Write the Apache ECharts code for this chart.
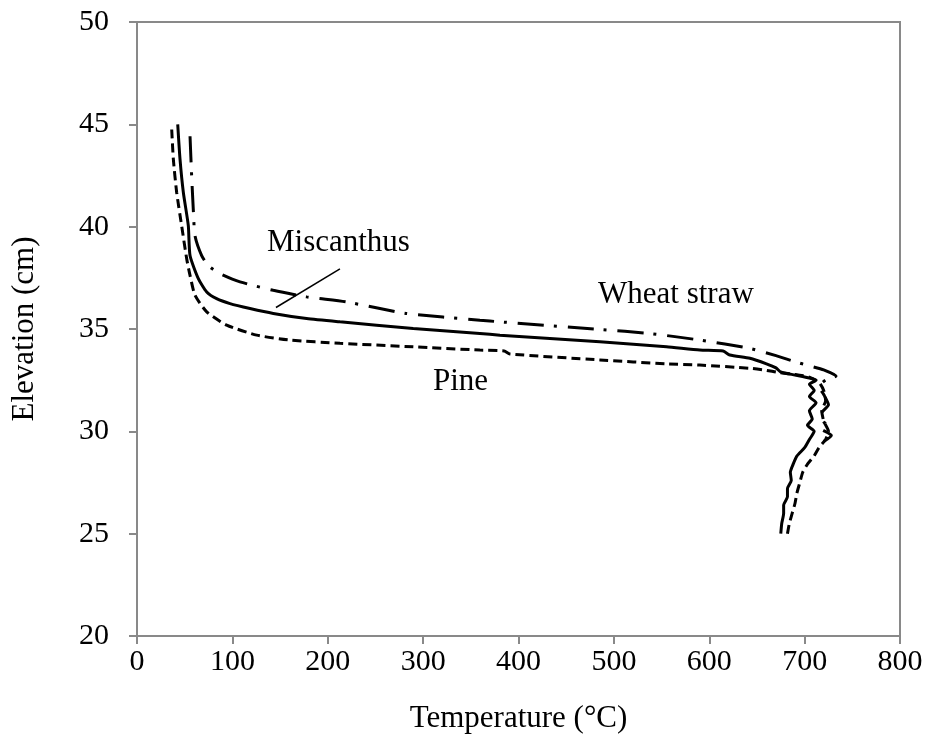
<!DOCTYPE html>
<html>
<head>
<meta charset="utf-8">
<script src="https://cdn.jsdelivr.net/npm/echarts@6/dist/echarts.min.js"></script>
<style>
  html, body { margin: 0; padding: 0; background: #fff; }
  #chart { width: 927px; height: 739px; }
</style>
</head>
<body>
<div id="chart"></div>
<script>
// Temperature profiles along the bed height (temperature in °C, elevation in cm)
const pineTemp = [36.4, 38.1, 41.6, 46.8, 52.1, 55.6, 60.8, 73.1, 94.0, 125.5, 160.4, 212.8, 289.6, 359.5, 385, 391, 485.3, 555.2, 590.1, 642.6,
  660, 672, 690, 705, 715, 720, 722, 718, 720, 725, 722, 715, 710, 703, 698, 695, 692, 690, 687, 684, 682];
const pineElev = [44.75, 43.3, 41.67, 40.05, 38.43, 37.62, 36.65, 35.84, 35.19, 34.70, 34.46, 34.30, 34.13, 33.97, 33.93, 33.78, 33.49, 33.30, 33.24, 33.08,
  32.98, 32.88, 32.78, 32.65, 32.4, 32.0, 31.5, 31.0, 30.5, 30.0, 29.6, 29.2, 28.8, 28.4, 28.0, 27.5, 27.0, 26.5, 26.0, 25.5, 25.0];

const miscanthusTemp = [42.7, 45.1, 48.6, 53.8, 55.6, 64.3, 73.1, 83.5, 97.5, 118.5, 142.9, 177.8, 212.8, 289.6, 359.5, 380.5, 485.3, 555.2, 590.1, 614.6, 621.6, 642.6,
  660, 670, 675, 690, 705, 712, 705, 710, 705, 712, 705, 708, 703, 710, 705, 700, 692, 688, 685, 686, 682, 682, 678, 678, 676, 675];
const miscanthusElev = [45.0, 43.3, 41.67, 40.05, 38.59, 37.46, 36.81, 36.48, 36.24, 36.0, 35.76, 35.51, 35.35, 35.03, 34.78, 34.70, 34.38, 34.13, 33.97, 33.92, 33.73, 33.57,
  33.3, 33.1, 32.9, 32.75, 32.6, 32.5, 32.3, 32.0, 31.7, 31.4, 31.0, 30.6, 30.3, 30.0, 29.6, 29.2, 28.8, 28.4, 28.0, 27.6, 27.2, 26.8, 26.4, 26.0, 25.5, 25.0];

const wheatTemp = [55.6, 57.3, 59.0, 60.8, 67.8, 74.7, 87.0, 108.0, 142.9, 177.8, 219.8, 282, 359.5, 380.5, 485.3, 537.7, 590.1, 642.6,
  670, 690, 705, 720, 733, 722, 715, 720, 725, 718, 722, 715, 728, 720];
const wheatElev = [44.42, 42.48, 40.86, 39.56, 38.59, 38.10, 37.70, 37.30, 36.89, 36.57, 36.32, 35.76, 35.43, 35.35, 34.98, 34.78, 34.46, 34.05,
  33.7, 33.4, 33.2, 33.0, 32.7, 32.5, 32.2, 31.8, 31.3, 30.9, 30.5, 30.2, 29.8, 29.5];

// Pointer from the "Miscanthus" label to its curve
const leaderTemp = [212.8, 145.7];
const leaderElev = [37.94, 36.05];

const xTicks = [0, 100, 200, 300, 400, 500, 600, 700, 800];
const yTicks = [20, 25, 30, 35, 40, 45, 50];

const pairs = (xs, ys) => xs.map((x, i) => [x, ys[i]]);

const FONT = '"Liberation Serif", "Times New Roman", serif';
const AXIS_GREY = '#898989';

const chart = echarts.init(document.getElementById('chart'), null, { renderer: 'canvas' });

const lineSeries = (name, xs, ys, type) => ({
  name: name,
  type: 'line',
  data: pairs(xs, ys),
  showSymbol: false,
  smooth: 0.2,
  lineStyle: { color: '#000', width: 3, type: type, cap: 'butt' },
  z: 3
});

chart.setOption({
  animation: false,
  backgroundColor: '#fff',
  grid: {
    left: 137, right: 27, top: 22, bottom: 100,
    show: true, borderColor: AXIS_GREY, borderWidth: 2, backgroundColor: 'transparent'
  },
  xAxis: {
    type: 'value',
    min: xTicks[0], max: xTicks[xTicks.length - 1], interval: 100,
    name: 'Temperature (°C)', nameLocation: 'middle', nameGap: 67,
    nameTextStyle: { fontFamily: FONT, fontSize: 31, color: '#000' },
    axisLine: { show: true, lineStyle: { color: AXIS_GREY, width: 2 } },
    axisTick: { show: true, inside: false, length: 8, lineStyle: { color: AXIS_GREY, width: 2 } },
    axisLabel: { fontFamily: FONT, fontSize: 30, color: '#000', margin: 11 },
    splitLine: { show: false }
  },
  yAxis: {
    type: 'value',
    min: yTicks[0], max: yTicks[yTicks.length - 1], interval: 5,
    name: 'Elevation (cm)', nameLocation: 'middle', nameGap: 97, nameRotate: 90,
    nameTextStyle: { fontFamily: FONT, fontSize: 31, color: '#000' },
    axisLine: { show: true, lineStyle: { color: AXIS_GREY, width: 2 } },
    axisTick: { show: true, inside: false, length: 8, lineStyle: { color: AXIS_GREY, width: 2 } },
    axisLabel: { fontFamily: FONT, fontSize: 30, color: '#000', margin: 28 },
    splitLine: { show: false }
  },
  series: [
    lineSeries('Pine', pineTemp, pineElev, [9, 5]),
    lineSeries('Miscanthus', miscanthusTemp, miscanthusElev, 'solid'),
    lineSeries('Wheat straw', wheatTemp, wheatElev, [26, 10, 3, 11]),
    {
      name: 'leader',
      type: 'line',
      data: pairs(leaderTemp, leaderElev),
      showSymbol: false,
      lineStyle: { color: '#000', width: 1.5 },
      z: 4
    }
  ],
  graphic: [
    { type: 'text', left: 267, top: 227, style: { text: 'Miscanthus', font: '31px ' + FONT, fill: '#000' } },
    { type: 'text', left: 598, top: 279, style: { text: 'Wheat straw', font: '31px ' + FONT, fill: '#000' } },
    { type: 'text', left: 433, top: 366, style: { text: 'Pine', font: '31px ' + FONT, fill: '#000' } }
  ]
});
</script>
</body>
</html>
